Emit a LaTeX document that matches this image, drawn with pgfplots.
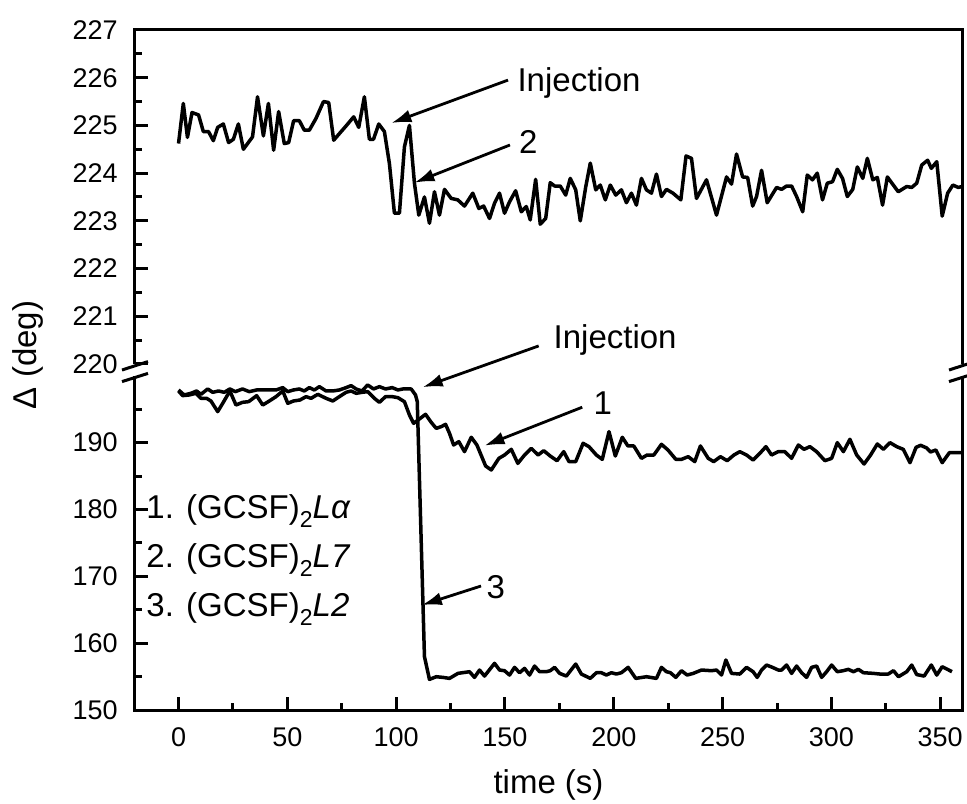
\documentclass[border=0pt]{standalone}
\usepackage{fontspec}
\setmainfont{Liberation Sans}
\usepackage{pgfplots}
\pgfplotsset{compat=1.18}
\usetikzlibrary{arrows.meta}

\begin{document}
\begin{tikzpicture}[
  ann/.style={font=\fontsize{16.5}{19}\selectfont, anchor=base west, inner sep=0pt},
  arr/.style={line width=1.4pt, -{Latex[length=10pt,width=6.5pt]}},
  frame/.style={line width=1.5pt, line join=miter},
]
\pgfplotsset{
  brokenaxis/.style={
    scale only axis,
    width=413.5pt,
    xmin=-20, xmax=360,
    clip=false,
    axis line style={draw=none},
    tick align=inside,
    tick pos=left,
    major tick length=6.5pt,
    minor tick length=3.5pt,
    tick style={black, line width=1.5pt},
    tick label style={font=\fontsize{13.5}{16}\selectfont, inner sep=0pt},
    /pgf/number format/assume math mode=true,
    yticklabel style={xshift=-8.5pt},
    xticklabel style={yshift=-8.5pt},
  },
  dataline/.style={black, line width=1.75pt, line join=round, no markers},
}

% ---- lower part: 150 .. 200 ----
\begin{axis}[brokenaxis,
  at={(0pt,0pt)}, anchor=south west,
  height=167.1pt,
  ymin=150, ymax=200,
  xtick={0,50,...,350},
  minor xtick={25,75,...,325},
  ytick={150,160,170,180,190},
  minor ytick={155,165,175,185,195},
]
% curve 1
\addplot[dataline] coordinates {
(0,197.73) (1.9,197.03) (4.9,197.13) (8.0,197.38) (10.3,196.63) (12.9,196.63)
(14.9,196.23) (18.0,194.64) (20.3,195.88) (23.6,197.73) (26.4,195.63) (29.4,196.03)
(32.2,196.13) (35.9,197.03) (38.7,195.63) (41.7,196.23) (44.8,196.88) (47.9,197.73)
(50.2,195.88) (52.8,196.23) (55.8,196.38) (58.6,196.88) (60.9,196.63) (64.0,197.23)
(67.8,196.63) (70.9,196.23) (73.9,196.88) (77.0,197.53) (79.3,197.73) (81.6,197.38)
(84.3,197.53) (87.0,197.63) (90.0,196.63) (92.3,196.03) (95.1,196.88) (98.2,196.88)
(100.8,196.73) (103.8,196.13) (106.1,194.14) (108.0,192.89) (110.7,193.54) (113.5,194.24)
(116.1,193.04) (118.4,192.14) (120.7,192.39) (122.7,192.74) (124.5,191.4) (126.4,189.65)
(128.8,190.15) (131.4,188.65) (134.5,190.8) (137.1,189.65) (141.1,186.51) (143.7,185.91)
(147.2,187.65) (149.8,188.15) (152.9,189.0) (155.9,186.9) (159.0,188.15) (162.1,189.15)
(165.2,188.15) (167.8,188.8) (170.8,188.0) (173.9,187.3) (177.0,188.65) (179.4,187.16)
(182.5,187.16) (185.9,189.9) (188.6,189.4) (192.0,188.15) (194.7,187.5) (197.8,191.65)
(200.7,188.0) (203.9,190.8) (206.5,189.5) (209.2,189.5) (212.7,187.65) (215.3,188.15)
(218.4,188.15) (221.9,189.75) (224.9,188.9) (228.5,187.5) (231.1,187.5) (234.2,187.9)
(237.2,187.16) (239.8,189.5) (243.4,187.65) (245.9,187.16) (249.0,187.9) (252.1,187.3)
(255.2,188.15) (257.9,188.65) (261.0,188.15) (264.0,187.4) (267.1,188.4) (269.9,189.4)
(272.5,188.15) (275.5,188.65) (278.6,188.65) (281.7,187.65) (284.8,189.65) (287.4,189.0)
(290.1,189.4) (293.2,188.65) (297.0,187.3) (300.1,187.65) (302.7,190.0) (305.5,188.65)
(308.5,190.5) (311.6,188.15) (315.0,186.8) (318.0,188.15) (321.1,189.8) (323.9,189.0)
(326.9,190.0) (330.0,189.4) (333.0,189.0) (336.1,187.0) (338.9,189.3) (341.0,189.6)
(343.8,189.2) (345.5,188.6) (348.0,188.9) (350.9,187.0) (354.2,188.5) (360,188.5)
};
% curve 3
\addplot[dataline] coordinates {
(0,197.88) (2.6,197.13) (5.7,197.38) (8.3,197.73) (10.3,197.23) (13.4,198.03)
(15.7,197.53) (18.4,197.73) (21.0,197.53) (23.6,198.03) (26.1,197.63) (29.4,198.03)
(32.5,197.63) (35.9,197.88) (41.7,197.88) (44.8,197.88) (47.9,198.23) (50.2,197.63)
(52.8,197.88) (55.5,198.03) (57.8,197.73) (60.1,198.23) (62.4,197.88) (64.7,198.38)
(67.8,197.73) (70.9,197.73) (73.9,197.88) (77.0,198.23) (79.3,198.53) (81.6,198.03)
(84.3,197.73) (86.9,198.63) (89.6,198.03) (92.3,198.38) (95.1,198.03) (98.2,198.23)
(100.8,197.88) (103.1,198.03) (106.9,198.03) (108.9,197.13) (109.7,196.13) (113.0,157.98)
(115.3,154.58) (118.4,154.98) (121.5,154.88) (124.5,154.73) (128.4,155.48) (133.7,155.73)
(136.0,154.88) (138.3,155.98) (140.6,155.08) (145.2,156.98) (147.5,155.98) (149.8,155.88)
(152.1,155.23) (154.4,156.38) (156.7,155.58) (159.0,156.23) (161.3,155.23) (163.6,156.58)
(165.9,155.73) (169.0,155.73) (170.8,155.88) (172.8,156.38) (175.1,155.48) (178.2,155.08)
(182.5,156.88) (185.1,155.38) (189.2,154.73) (192.0,155.58) (194.3,155.58) (196.6,155.23)
(198.9,155.58) (201.2,155.38) (203.5,155.58) (206.6,156.38) (210.1,154.73) (215.0,154.98)
(219.6,154.73) (221.9,156.38) (224.2,155.73) (226.0,155.58) (228.5,154.88) (231.1,155.88)
(233.7,155.23) (236.5,155.48) (240.3,155.98) (244.9,155.88) (247.2,155.98) (249.5,155.23)
(251.5,157.48) (254.1,155.48) (257.9,155.38) (261.0,156.38) (264.0,155.73) (265.9,154.88)
(267.9,155.98) (270.2,156.73) (272.9,156.38) (275.6,155.98) (277.1,155.98) (279.4,156.73)
(281.7,155.48) (284.0,156.58) (286.3,155.58) (288.6,154.88) (290.9,156.38) (293.2,156.58)
(295.5,154.88) (297.8,155.73) (300.1,156.73) (302.7,155.73) (305.4,155.88) (307.8,156.08)
(310.1,155.73) (312.4,156.08) (314.7,155.58) (319.3,155.48) (322.3,155.38) (326.1,155.38)
(328.5,155.88) (330.8,154.98) (334.6,155.73) (336.9,156.73) (339.2,155.3) (342.6,155.08)
(345.9,156.73) (348.4,155.23) (350.9,156.48) (355.4,155.73)
};
% frame and break marks
\draw[frame] (rel axis cs:0,1) -- (rel axis cs:0,0) -- (rel axis cs:1,0) -- (rel axis cs:1,1);
\draw[frame] ([shift={(-6.5pt,-2.9pt)}]rel axis cs:0,1) -- ([shift={(6.5pt,1.2pt)}]rel axis cs:0,1);
\draw[frame] ([shift={(-6.5pt,-2.9pt)}]rel axis cs:1,1) -- ([shift={(6.5pt,1.2pt)}]rel axis cs:1,1);
% annotations
\draw[arr] (axis cs:165.5,204.47) -- (axis cs:112.2,198.29);
\node[ann] at (axis cs:172.2,204.12) {Injection};
\draw[arr] (axis cs:185.5,195.3) -- (axis cs:140.6,189.55);
\node[ann] at (axis cs:190.5,194.14) {1};
\draw[arr] (axis cs:139.0,168.55) -- (axis cs:111.8,165.7);
\node[ann] at (axis cs:141.4,166.7) {3};
\node[ann] at (axis cs:-14.9,178.68) {1. (GCSF)\raisebox{-4.5pt}{\fontsize{11.5}{12}\selectfont 2}{\itshape Lα}};
\node[ann] at (axis cs:-14.9,171.35) {2. (GCSF)\raisebox{-4.5pt}{\fontsize{11.5}{12}\selectfont 2}{\itshape L7}};
\node[ann] at (axis cs:-14.9,163.96) {3. (GCSF)\raisebox{-4.5pt}{\fontsize{11.5}{12}\selectfont 2}{\itshape L2}};
\end{axis}

% ---- upper part: 220 .. 227 ----
\begin{axis}[brokenaxis,
  at={(0pt,173pt)}, anchor=south west,
  height=167pt,
  ymin=220, ymax=227,
  xtick=\empty,
  ytick={220,221,...,227},
  minor y tick num=1,
]
% curve 2
\addplot[dataline] coordinates {
(0,224.62) (2.2,225.46) (4.1,224.75) (6.2,225.27) (9.2,225.22) (11.4,224.87)
(13.8,224.87) (16.0,224.68) (18.0,224.96) (20.6,225.03) (23.0,224.64) (25.2,224.71)
(27.5,225.03) (29.8,224.5) (34.0,224.76) (36.3,225.6) (39.0,224.78) (41.3,225.46)
(43.7,224.48) (46.0,225.29) (48.6,224.62) (50.6,224.64) (52.9,225.1) (55.5,225.1)
(57.8,224.9) (60.1,224.9) (63.2,225.15) (66.6,225.5) (69.0,225.48) (71.3,224.69)
(74.7,224.87) (77.0,224.99) (80.5,225.18) (82.8,224.96) (85.4,225.6) (87.7,224.71)
(89.6,224.71) (92.0,225.03) (94.6,224.87) (96.9,224.2) (99.2,223.16) (101.5,223.16)
(103.8,224.55) (106.1,225.0) (108.4,223.79) (110.4,223.12) (113.0,223.5) (115.3,222.95)
(117.6,223.61) (119.9,223.12) (122.2,223.66) (125.3,223.47) (128.3,223.44) (131.4,223.31)
(135.2,223.58) (138.0,223.26) (140.2,223.31) (142.9,223.05) (145.2,223.37) (147.5,223.58)
(149.8,223.16) (152.1,223.4) (154.9,223.63) (157.5,223.19) (159.8,223.3) (161.6,223.02)
(164.1,223.87) (166.2,222.93) (168.7,223.05) (170.8,223.8) (172.8,223.73) (175.4,223.73)
(177.9,223.54) (180.0,223.89) (182.5,223.65) (184.6,223.0) (187.1,223.71) (189.2,224.21)
(191.7,223.65) (193.8,223.75) (196.1,223.44) (198.4,223.75) (200.9,223.54) (203.5,223.65)
(205.8,223.38) (208.1,223.58) (210.4,223.33) (212.7,223.89) (215.0,223.65) (217.3,223.58)
(219.6,223.98) (221.9,223.51) (224.2,223.66) (227.2,223.58) (230.8,223.44) (233.2,224.36)
(235.7,224.31) (238.0,223.47) (242.6,223.86) (247.2,223.12) (251.8,223.92) (254.1,223.77)
(256.4,224.4) (259.2,223.92) (261.5,223.91) (263.8,223.31) (265.6,223.51) (267.9,224.06)
(270.5,223.38) (274.8,223.7) (277.1,223.66) (279.4,223.73) (281.7,223.73) (284.0,223.51)
(286.8,223.19) (288.9,223.96) (291.3,223.86) (293.5,224.0) (295.9,223.44) (298.1,223.79)
(300.5,223.82) (302.7,224.08) (305.1,223.89) (307.3,223.51) (309.8,223.66) (311.9,224.13)
(314.4,223.89) (316.5,224.31) (319.0,223.86) (321.1,223.91) (323.5,223.33) (325.7,223.92)
(330.7,223.61) (334.6,223.72) (336.9,223.7) (339.2,223.79) (341.5,224.17) (344.2,224.27)
(345.9,224.1) (348.4,224.24) (350.9,223.1) (353.4,223.58) (355.8,223.75) (358.3,223.7)
(360,223.72)
};
\draw[frame] (rel axis cs:0,0) -- (rel axis cs:0,1) -- (rel axis cs:1,1) -- (rel axis cs:1,0);
\draw[frame] ([shift={(-6.5pt,-3pt)}]rel axis cs:0,0) -- ([shift={(6.5pt,1.2pt)}]rel axis cs:0,0);
\draw[frame] ([shift={(-6.5pt,-3pt)}]rel axis cs:1,0) -- ([shift={(6.5pt,1.2pt)}]rel axis cs:1,0);
\draw[arr] (axis cs:151.4,225.95) -- (axis cs:97.8,225.05);
\node[ann] at (axis cs:155.6,225.71) {Injection};
\draw[arr] (axis cs:152.3,224.59) -- (axis cs:108.4,223.8);
\node[ann] at (axis cs:156.3,224.41) {2};
\end{axis}

% axis titles
\node[rotate=90, font=\fontsize{16.5}{19}\selectfont] at (-53.5pt,177.5pt) {Δ (deg)};
\node[anchor=base, font=\fontsize{16.5}{19}\selectfont] at (206.75pt,-41.5pt) {time (s)};

\pgfresetboundingbox
\useasboundingbox (-67.5pt,-46.5pt) rectangle (416pt,355pt);
\end{tikzpicture}
\end{document}
